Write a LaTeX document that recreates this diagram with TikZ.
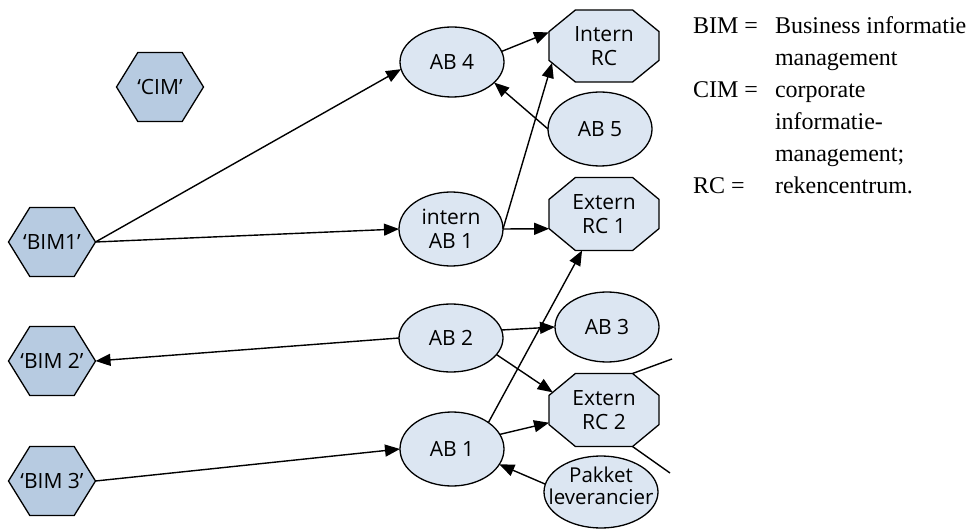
\documentclass[tikz,border=0pt]{standalone}
\usepackage{fontspec}
\usetikzlibrary{shapes.geometric,arrows.meta}
\newfontfamily\nodefont{Open Sans}
\newfontfamily\legendfont{Liberation Serif}
\definecolor{hexfill}{RGB}{183,203,225}
\definecolor{ellfill}{RGB}{220,230,242}
\makeatletter
\newcommand\declarechamfered[3]{%
\pgfdeclareshape{#1}{%
  \inheritsavedanchors[from=rectangle]%
  \inheritanchor[from=rectangle]{center}%
  \inheritanchor[from=rectangle]{north}%
  \inheritanchor[from=rectangle]{south}%
  \inheritanchor[from=rectangle]{east}%
  \inheritanchor[from=rectangle]{west}%
  \inheritanchor[from=rectangle]{mid}%
  \inheritanchor[from=rectangle]{base}%
  \backgroundpath{%
    \southwest \pgf@xa=\pgf@x \pgf@ya=\pgf@y
    \northeast \pgf@xb=\pgf@x \pgf@yb=\pgf@y
    \pgf@xc=\pgf@xb \advance\pgf@xc by -\pgf@xa
    \pgf@yc=\pgf@yb \advance\pgf@yc by -\pgf@ya
    \pgf@xc=#2\pgf@xc
    \pgf@yc=#3\pgf@yc
    \edef\oc@xa{\the\pgf@xa}\edef\oc@xb{\the\pgf@xb}%
    \edef\oc@ya{\the\pgf@ya}\edef\oc@yb{\the\pgf@yb}%
    \pgf@x=\pgf@xa \advance\pgf@x by \pgf@xc \edef\oc@xai{\the\pgf@x}%
    \pgf@x=\pgf@xb \advance\pgf@x by -\pgf@xc \edef\oc@xbi{\the\pgf@x}%
    \pgf@y=\pgf@ya \advance\pgf@y by \pgf@yc \edef\oc@yai{\the\pgf@y}%
    \pgf@y=\pgf@yb \advance\pgf@y by -\pgf@yc \edef\oc@ybi{\the\pgf@y}%
    \pgfpathmoveto{\pgfqpoint{\oc@xa}{\oc@yai}}%
    \pgfpathlineto{\pgfqpoint{\oc@xa}{\oc@ybi}}%
    \pgfpathlineto{\pgfqpoint{\oc@xai}{\oc@yb}}%
    \pgfpathlineto{\pgfqpoint{\oc@xbi}{\oc@yb}}%
    \pgfpathlineto{\pgfqpoint{\oc@xb}{\oc@ybi}}%
    \pgfpathlineto{\pgfqpoint{\oc@xb}{\oc@yai}}%
    \pgfpathlineto{\pgfqpoint{\oc@xbi}{\oc@ya}}%
    \pgfpathlineto{\pgfqpoint{\oc@xai}{\oc@ya}}%
    \pgfpathclose
  }%
  \anchorborder{%
    \edef\oc@dx{\the\pgf@x}\edef\oc@dy{\the\pgf@y}%
    \southwest \pgf@xa=\pgf@x \pgf@ya=\pgf@y
    \northeast \pgf@xb=\pgf@x \pgf@yb=\pgf@y
    \pgf@xc=\pgf@xb \advance\pgf@xc by -\pgf@xa \pgf@xc=.5\pgf@xc
    \pgf@yc=\pgf@yb \advance\pgf@yc by -\pgf@ya \pgf@yc=.5\pgf@yc
    \advance\pgf@xa by \pgf@xc \advance\pgf@ya by \pgf@yc
    \edef\oc@cx{\the\pgf@xa}\edef\oc@cy{\the\pgf@ya}%
    \edef\oc@a{\the\pgf@xc}\edef\oc@b{\the\pgf@yc}%
    \pgfmathsetmacro\oc@d{2*#2*\oc@a}%
    \pgfmathsetmacro\oc@c{2*#3*\oc@b}%
    \pgfmathsetmacro\oc@n{veclen(\oc@dx,\oc@dy)}%
    \pgfmathsetmacro\oc@nx{\oc@dx/\oc@n}%
    \pgfmathsetmacro\oc@ny{\oc@dy/\oc@n}%
    \pgfmathsetmacro\oc@ux{abs(\oc@nx)}%
    \pgfmathsetmacro\oc@uy{abs(\oc@ny)}%
    \pgfmathsetmacro\oc@t{(\oc@a*\oc@c+\oc@b*\oc@d-\oc@c*\oc@d)/(\oc@c*\oc@ux+\oc@d*\oc@uy)}%
    \ifdim\oc@ux pt>0.01pt \pgfmathsetmacro\oc@t{min(\oc@t,\oc@a/\oc@ux)}\fi
    \ifdim\oc@uy pt>0.01pt \pgfmathsetmacro\oc@t{min(\oc@t,\oc@b/\oc@uy)}\fi
    \pgfmathsetmacro\oc@rx{\oc@cx+\oc@t*\oc@nx}%
    \pgfmathsetmacro\oc@ry{\oc@cy+\oc@t*\oc@ny}%
    \pgf@x=\oc@rx pt\relax
    \pgf@y=\oc@ry pt\relax
  }%
}}
\declarechamfered{octo}{0.24}{0.30}
\declarechamfered{hexa}{0.245}{0.5}
\makeatother
\tikzset{
  nfont/.style={font=\nodefont\fontsize{21}{24}\selectfont},
  hexnode/.style={shape=hexa, draw, fill=hexfill, line width=1.3pt, minimum width=87pt, minimum height=69pt, inner sep=0pt, outer sep=0pt, nfont},
  octnode/.style={shape=octo, draw, fill=ellfill, line width=1.3pt, minimum width=110pt, minimum height=72pt, inner sep=0pt, outer sep=0pt, align=center, nfont},
  ellnode/.style={ellipse, draw, fill=ellfill, line width=1.3pt, minimum width=104pt, minimum height=70pt, inner sep=0pt, outer sep=0pt, align=center, nfont},
  conn/.style={line width=1.4pt, -{Triangle[length=15pt,width=12pt]}},
  plainline/.style={line width=1.4pt},
  legend/.style={font=\legendfont\fontsize{24}{32}\selectfont, anchor=base west, inner sep=0pt, outer sep=0pt},
}
\begin{document}
\begin{tikzpicture}[x=1pt,y=-1pt]
\useasboundingbox (0,0) rectangle (979,529);
% hexagons
\node[hexnode] (cim) at (160,87) {‘CIM’};
\node[hexnode] (bim1) at (52,242) {‘BIM1’};
\node[hexnode] (bim2) at (52,361) {‘BIM 2’};
\node[hexnode] (bim3) at (52,481) {‘BIM 3’};
% ellipses and octagons
\node[ellnode] (ab4) at (452,62) {AB 4};
\node[octnode] (irc) at (604,46) {Intern\\RC};
\node[ellnode, minimum height=74pt] (ab5) at (600,129) {AB 5};
\node[ellnode, minimum height=74pt] (iab1) at (451,229) {intern\\AB 1};
\node[octnode, minimum height=73pt] (erc1) at (604,214) {Extern\\RC 1};
\node[ellnode, minimum height=68pt] (ab2) at (451,338) {AB 2};
\node[ellnode] (ab3) at (607,327) {AB 3};
\node[octnode, minimum height=73pt] (erc2) at (604,410) {Extern\\RC 2};
\node[ellnode, minimum height=74pt] (ab1) at (452,449) {AB 1};
\node[ellnode, minimum width=114pt, minimum height=72pt,
      label={[name=pakt, font=\nodefont\fontsize{20.5}{22}\selectfont, align=center, inner sep=0pt, yshift=6pt]center:{Pakket\\leverancier}}] (pak) at (601,492) {};
% connectors
\draw[conn] (bim1.east) -- (ab4.188);
\draw[conn] (bim1.east) -- (iab1.west);
\draw[conn] (ab4.12) -- (irc.166);
\draw[conn] (ab5.west) -- (ab4.-26);
\draw[conn] (iab1.east) -- (irc.198);
\draw[conn] (iab1.east) -- (erc1.195);
\draw[conn] (ab2.west) -- (bim2.east);
\draw[conn] (ab2.9) -- (ab3.west);
\draw[conn] (ab2.-20) -- (erc2.161);
\draw[conn] (ab1.36) -- (erc1.239);
\draw[conn] (ab1.17) -- (erc2.193);
\draw[conn] (bim3.east) -- (ab1.west);
\draw[conn] (pak.172) -- (ab1.-18);
\coordinate (o1) at (672,359);
\coordinate (o2) at (670,473);
\draw[plainline] (erc2.52) -- (o1);
\draw[plainline] (erc2.-52) -- (o2);
% legend
\node[legend] (l1a) at (693,34) {BIM =};
\node[legend] (l1b) at (775,34) {Business informatie};
\node[legend] (l2b) at (775,66) {management};
\node[legend] (l3a) at (693,98) {CIM =};
\node[legend] (l3b) at (775,98) {corporate};
\node[legend] (l4b) at (775,130) {informatie-};
\node[legend] (l5b) at (775,162) {management;};
\node[legend] (l6a) at (693,194) {RC =};
\node[legend] (l6b) at (775,194) {rekencentrum.};
\end{tikzpicture}
\end{document}
